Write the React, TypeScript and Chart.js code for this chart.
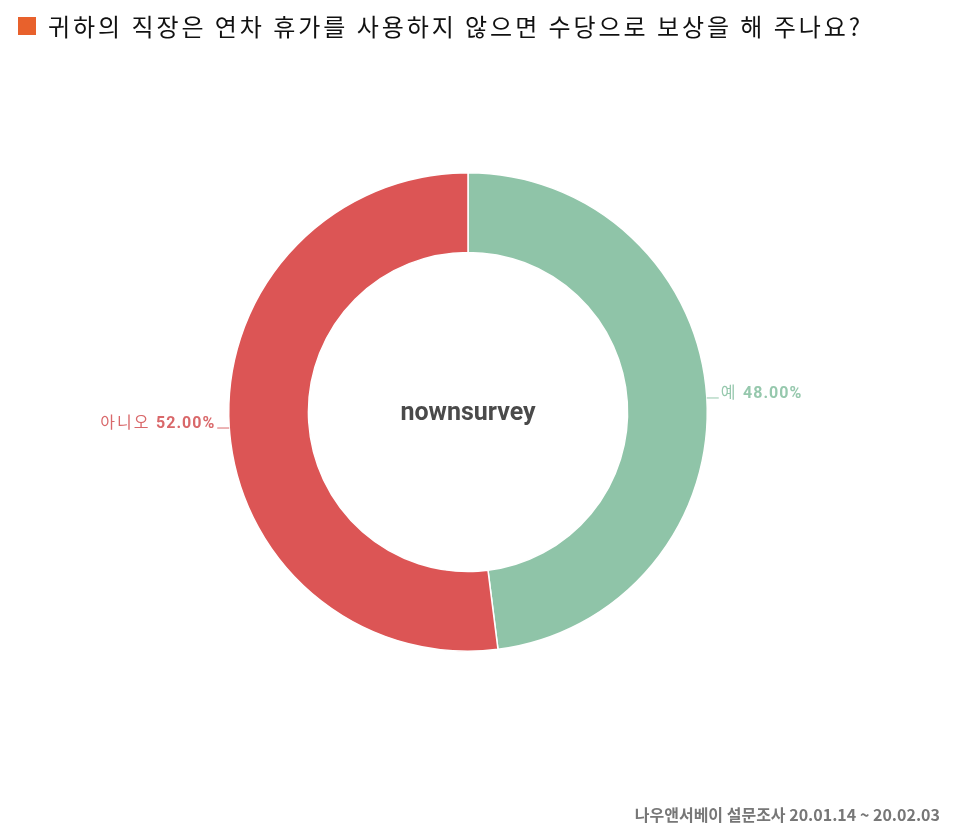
import React, { useEffect, useRef } from "react";
import { Chart, registerables } from "chart.js";

Chart.register(...registerables);

const title = "귀하의 직장은 연차 휴가를 사용하지 않으면 수당으로 보상을 해 주나요?";
const footer = "나우앤서베이 설문조사 20.01.14 ~ 20.02.03";
const centerText = "nownsurvey";
const categories = ["예", "아니오"];
const values = [48.0, 52.0];
const colors = ["#8FC4A8", "#DC5555"];
const labelColors = ["#96C8AD", "#D9686A"];

const W = 960;
const H = 835;

const labelPlugin = {
  id: "sliceLabels",
  afterDraw(chart: any) {
    const ctx = chart.ctx;
    const meta = chart.getDatasetMeta(0);
    ctx.save();
    meta.data.forEach((arc: any, i: number) => {
      const { x, y, startAngle, endAngle, outerRadius } = arc.getProps(
        ["x", "y", "startAngle", "endAngle", "outerRadius"],
        true
      );
      const mid = (startAngle + endAngle) / 2;
      const px = x + Math.cos(mid) * outerRadius;
      const py = y + Math.sin(mid) * outerRadius;
      const right = Math.cos(mid) >= 0;
      const lineLen = 12;
      const ly = py + 1;
      const lx = right ? px + lineLen : px - lineLen;
      ctx.strokeStyle = labelColors[i];
      ctx.lineWidth = 1;
      ctx.beginPath();
      ctx.moveTo(px, ly);
      ctx.lineTo(lx, ly);
      ctx.stroke();
      const name = categories[i] + " ";
      const pct = values[i].toFixed(2) + "%";
      ctx.fillStyle = labelColors[i];
      ctx.textBaseline = "alphabetic";
      const normalFont = "16px 'Noto Sans CJK KR', Roboto, sans-serif";
      const boldFont = "bold 16px Roboto, 'Noto Sans CJK KR', sans-serif";
      (ctx as any).letterSpacing = "2px";
      ctx.font = normalFont;
      const nw = ctx.measureText(name).width;
      (ctx as any).letterSpacing = "1px";
      ctx.font = boldFont;
      const pw = ctx.measureText(pct).width;
      const ty = ly;
      const sx = right ? lx + 2 : lx - 2 - nw - pw;
      ctx.textAlign = "left";
      (ctx as any).letterSpacing = "2px";
      ctx.font = normalFont;
      ctx.fillText(name, sx, ty);
      (ctx as any).letterSpacing = "1px";
      ctx.font = boldFont;
      ctx.fillText(pct, sx + nw, ty);
    });
    (ctx as any).letterSpacing = "0px";
    const a = meta.data[0];
    ctx.font = "bold 25px Roboto, sans-serif";
    ctx.fillStyle = "#4a4a4a";
    ctx.textAlign = "center";
    ctx.textBaseline = "middle";
    ctx.fillText(centerText, a.x, a.y + 2);
    ctx.restore();
  },
};

export default function App() {
  const ref = useRef<HTMLCanvasElement>(null);
  useEffect(() => {
    document.body.style.margin = "0";
    const chart = new Chart(ref.current as HTMLCanvasElement, {
      type: "doughnut",
      data: {
        labels: categories,
        datasets: [
          {
            data: values,
            backgroundColor: colors,
            borderColor: "#ffffff",
            borderWidth: 1.5,
          },
        ],
      },
      options: {
        responsive: false,
        maintainAspectRatio: false,
        animation: false,
        cutout: "66.7%",
        layout: { padding: { left: 228, right: 252, top: 172, bottom: 183 } },
        plugins: {
          legend: { display: false },
          tooltip: { enabled: false },
        },
      },
      plugins: [labelPlugin],
    });
    return () => chart.destroy();
  }, []);

  return (
    <div style={{ position: "relative", width: W, height: H, background: "#fff", overflow: "hidden" }}>
      <canvas ref={ref} width={W} height={H} style={{ position: "absolute", left: 0, top: 0, width: W, height: H }} />
      <div
        style={{
          position: "absolute",
          left: 18,
          top: 8,
          display: "flex",
          alignItems: "center",
          fontFamily: "'Noto Sans CJK KR', sans-serif",
          fontSize: 24,
          color: "#111",
          whiteSpace: "nowrap",
        }}
      >
        <span style={{ display: "inline-block", width: 18, height: 18, background: "#E8612C", marginRight: 12 }} />
        <span style={{ letterSpacing: "2.95px" }}>{title}</span>
      </div>
      <div
        style={{
          position: "absolute",
          right: 20,
          top: 803,
          fontFamily: "'Noto Sans CJK KR', sans-serif",
          fontWeight: "bold",
          fontSize: 16,
          color: "#777",
          whiteSpace: "nowrap",
          lineHeight: "22px",
        }}
      >
        {footer}
      </div>
    </div>
  );
}
